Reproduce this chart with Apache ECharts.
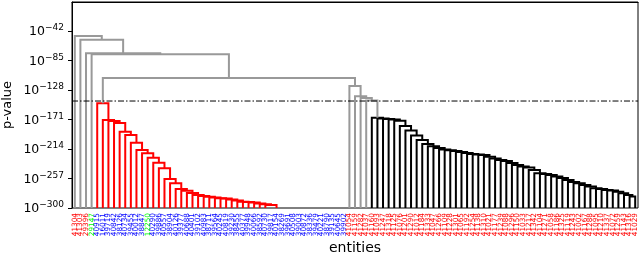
<!DOCTYPE html>
<html><head><meta charset="utf-8">
<script src="https://cdn.jsdelivr.net/npm/echarts@6/dist/echarts.min.js"></script>
<style>html,body{margin:0;padding:0;background:#fff}#c{width:640px;height:255px}</style>
</head><body><div id="c"></div>
<script>
// ---- data ----
const leafLabels = [
 '41304','41303','29396','29147',
 '40915','16011','39719','40842','38126','40734','39455','40012','38847','12250',
 '40290','39886','40557','38904','40126','39377','40688','40401','39102','40983',
 '38711','39564','40245','40819','39230','38455','40377','39948','40066','38592',
 '40730','39817','40154','38269','39691','40508','39003','40872','38336','39479',
 '40221','38790','39135','40645','39902',
 '41054','41159','41282','41037',
 '41160','41093','41247','41318','41125','41076','41201','41290','41012','41184',
 '41333','41047','41266','41109','41228','41301','41065','41192','41254','41138',
 '41310','41021','41177','41239','41088','41296','41150','41033','41217','41342',
 '41104','41271','41058','41186','41325','41119','41243','41002','41167','41288',
 '41095','41210','41337','41072','41259','41143','41316','41029'
];
const labelColorCodes = 'rrrg bbbbbbbbbg bbbbbbbbbb bbbbbbbbbb bbbbbbbbbb bbbbb rrrrrrrrrr rrrrrrrrrr rrrrrrrrrr rrrrrrrrrr rrrrrrrrrr rr'.replace(/ /g,'');
const labelPalette = {r:'#ff0000', g:'#00ff00', b:'#0000ff'};

// merge heights as log10(p) exponents
const leftGreyHeights = [-49.5, -54.9, -74.7, -76.2];      // leaves 0..3 joining
const topJoinHeight = -110.7;                                // red cluster + right part
const midGreyHeights = [-122.3, -137.3, -139.8, -143.4];    // leaves 49..52 joining
const redChainHeights = [                                     // leaves 4..47 joining (48 last)
 -147.5,-171.9,-173.3,-176.2,-188.9,-193.7,-204.9,-215.5,-220.3,-226.8,
 -234.1,-242.2,-257.8,-264.0,-272.3,-274.8,-278.2,-281.1,-282.5,-283.5,
 -284.7,-285.9,-286.2,-287.6,-289.1,-290.8,-291.3,-292.0,-293.4,-294.6,
 -295.6,-302,-303,-304,-305,-306,-307,-308,-309,-310,-311,-312,-313,-314
];
const blackChainHeights = [                                   // leaves 53..99 joining (100 last)
 -168.5,-169.7,-170.4,-171.1,-172.9,-180.6,-187.1,-194.4,-201.0,-206.8,
 -210.1,-212.6,-214.8,-216.0,-217.0,-218.4,-219.9,-221.4,-222.1,-222.8,
 -225.3,-227.9,-230.1,-231.6,-234.5,-237.4,-239.6,-241.0,-244.7,-249.5,
 -250.5,-251.9,-254.1,-256.3,-259.2,-262.1,-264.0,-266.5,-268.7,-271.3,
 -272.3,-273.8,-274.5,-276.3,-278.6,-281.1,-283.3
];
const thresholdValue = -144.2;
const leafBase = -330;
const yTicks = [-300,-257,-214,-171,-128,-85,-42];
const linkColors = ['#999999', '#ff0000', '#000000'];

// ---- build dendrogram links ----
const N = leafLabels.length;
const links = [];
function leaf(i){ return {x: i + 0.5, h: leafBase}; }
function join(a, b, h, c){
  links.push([a.x, b.x, a.h, b.h, h, c]);
  return {x: (a.x + b.x) / 2, h: h};
}
function chain(start, heights, c){
  let node = leaf(start + heights.length);
  for (let k = heights.length - 1; k >= 0; k--) node = join(leaf(start + k), node, heights[k], c);
  return node;
}
const redNode = chain(4, redChainHeights, 1);
let mid = chain(53, blackChainHeights, 2);
for (let k = midGreyHeights.length - 1; k >= 0; k--) mid = join(leaf(49 + k), mid, midGreyHeights[k], 0);
let root = join(redNode, mid, topJoinHeight, 0);
for (let k = leftGreyHeights.length - 1; k >= 0; k--) root = join(leaf(k), root, leftGreyHeights[k], 0);

const catData = leafLabels.map((l, i) => ({value: l, textStyle: {color: labelPalette[labelColorCodes[i]]}}));

const chart = echarts.init(document.getElementById('c'), null, {renderer: 'canvas'});
chart.setOption({
  animation: false,
  grid: {left: 72, right: 2, top: 2, bottom: 47, show: true, borderColor: '#000', borderWidth: 1,
         backgroundColor: 'transparent', containLabel: false, outerBoundsMode: 'none'},
  xAxis: [
    {type: 'category', data: catData, boundaryGap: true,
     axisLine: {show: true, lineStyle: {color: '#000', width: 1}},
     axisTick: {show: false},
     axisLabel: {rotate: 90, interval: 0, fontSize: 7.3, margin: 5, fontFamily: 'DejaVu Sans'},
     name: 'entities', nameLocation: 'middle', nameGap: 33, nameMoveOverlap: false,
     nameTextStyle: {fontSize: 14, color: '#000', fontFamily: 'DejaVu Sans'}},
    {type: 'value', min: 0, max: N, show: false}
  ],
  yAxis: {
    type: 'value', min: -300, max: 0, interval: 43,
    axisLine: {show: true, lineStyle: {color: '#000', width: 1}},
    axisTick: {show: true, length: 4, lineStyle: {color: '#000'}, customValues: yTicks},
    splitLine: {show: false},
    axisLabel: {margin: 8, customValues: yTicks,
      formatter: v => '{b|10}{s|\u2212' + Math.round(-v) + '}',
      rich: {
        b: {fontSize: 12.5, fontFamily: 'DejaVu Sans', color: '#000', verticalAlign: 'bottom'},
        s: {fontSize: 9, fontFamily: 'DejaVu Sans', color: '#000', verticalAlign: 'bottom', padding: [0, 0, 6, 0]}
      }},
    name: 'p-value', nameLocation: 'middle', nameRotate: 90, nameGap: 58, nameMoveOverlap: false,
    nameTextStyle: {fontSize: 13, color: '#000', fontFamily: 'DejaVu Sans'}
  },
  series: [
    {type: 'custom', xAxisIndex: 1, clip: true, data: links,
     encode: {x: [0, 1], y: [4]},
     renderItem: function(params, api){
       const xl = api.value(0), xr = api.value(1), hl = api.value(2), hr = api.value(3), h = api.value(4);
       const pts = [api.coord([xl, hl]), api.coord([xl, h]), api.coord([xr, h]), api.coord([xr, hr])];
       return {type: 'polyline', shape: {points: pts},
               style: {stroke: linkColors[api.value(5)], lineWidth: 2, fill: null}};
     }},
    {type: 'line', xAxisIndex: 1, data: [[0, thresholdValue], [N, thresholdValue]], symbol: 'none',
     lineStyle: {color: '#000', width: 1, type: [6, 2, 1.5, 2]}, z: 5}
  ]
});
</script></body></html>
